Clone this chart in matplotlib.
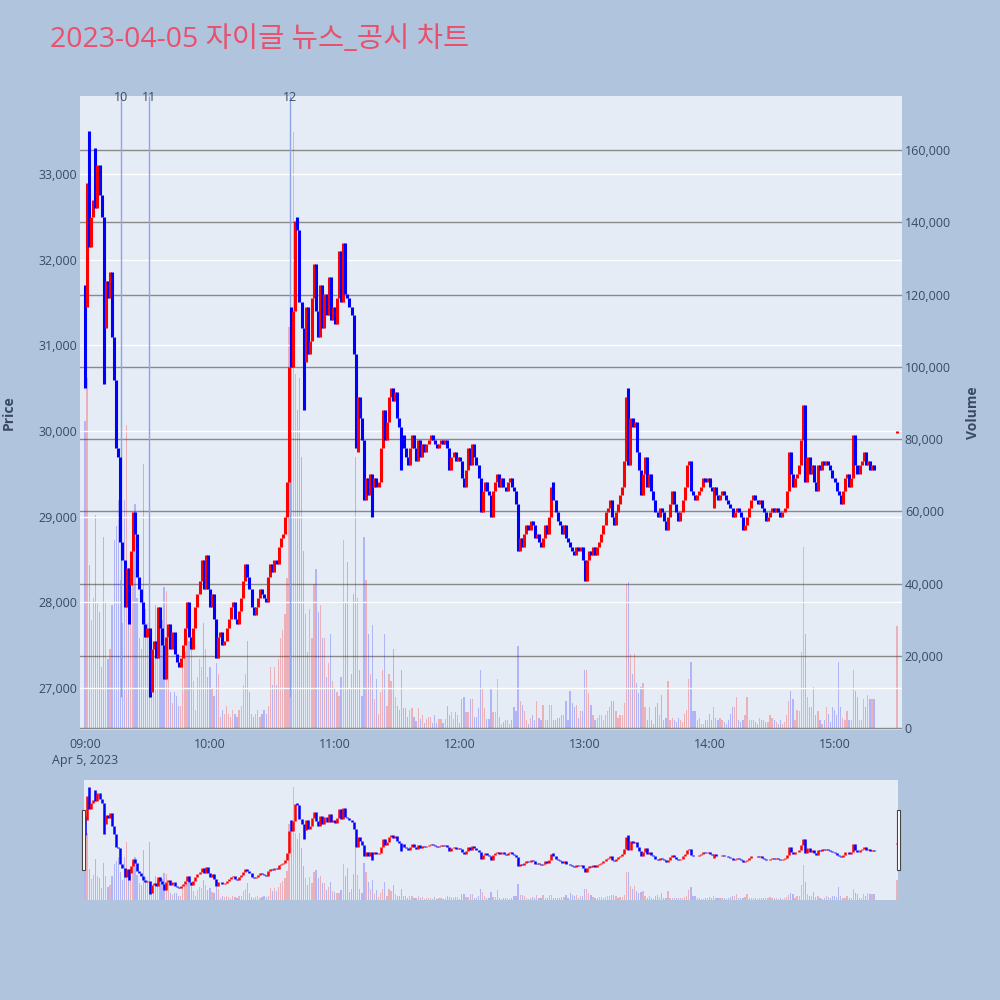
import matplotlib
matplotlib.use('Agg')
import matplotlib.pyplot as plt
from matplotlib.patches import Rectangle

plt.rcParams['font.family'] = ['Open Sans', 'Noto Sans CJK KR', 'DejaVu Sans']

# 1분봉 종가 (09:00 ~ 15:19), 시가는 직전 분의 종가
first_open = 31700
closes = [
    31450, 32900, 32150, 32500, 32700, 32600, 33100, 32750, 32500, 31200,
    31750, 31550, 31850, 31100, 30600, 29800, 29700, 28700, 28500, 27950,
    28400, 28200, 28600, 29050, 28800, 28300, 28150, 28000, 27750, 27600,
    27700, 27000, 27450, 27550, 27350, 27950, 27700, 27500, 27100, 27600,
    27750, 27450, 27650, 27400, 27300, 27250, 27350, 27500, 27700, 28000,
    27600, 27450, 27700, 27950, 28100, 28250, 28500, 28150, 28550, 28150,
    27950, 28100, 27800, 27350, 27600, 27650, 27500, 27550, 27700, 27800,
    27950, 28000, 27800, 27750, 27900, 28050, 28250, 28450, 28300, 28150,
    27950, 27850, 27950, 28050, 28150, 28100, 28050, 28000, 28300, 28450,
    28350, 28500, 28450, 28650, 28750, 28800, 29000, 29400, 30750, 30750,
    31400, 32450, 32350, 31500, 31200, 30800, 31450, 30900, 31050, 31550,
    31950, 31400, 31100, 31700, 31200, 31600, 31350, 31800, 31300, 31450,
    31250, 31550, 32100, 31500, 32200, 31600, 31550, 31450, 31350, 30900,
    29800, 30400, 30150, 29900, 29200, 29450, 29250, 29500, 29350, 29450,
    29350, 29400, 29800, 30250, 29900, 30100, 30400, 30500, 30350, 30450,
    30150, 30050, 29950, 29800, 29700, 29600, 29800, 29950, 29800, 29650,
    29900, 29700, 29850, 29750, 29850, 29900, 29950, 29900, 29850, 29800,
    29850, 29900, 29850, 29900, 29800, 29550, 29700, 29750, 29650, 29700,
    29650, 29450, 29350, 29550, 29800, 29600, 29850, 29700, 29600, 29450,
    29050, 29300, 29400, 29300, 29250, 29000, 29300, 29400, 29500, 29350,
    29450, 29350, 29300, 29400, 29450, 29350, 29300, 29150, 28600, 28750,
    28650, 28800, 28900, 28850, 28950, 28900, 28750, 28800, 28700, 28650,
    28750, 28900, 28800, 29000, 29350, 29200, 29050, 28950, 28900, 28800,
    28900, 28750, 28700, 28650, 28600, 28550, 28650, 28600, 28650, 28500,
    28250, 28500, 28600, 28550, 28650, 28550, 28650, 28700, 28800, 28900,
    29050, 29100, 29200, 29000, 28900, 29050, 29150, 29250, 29350, 29650,
    30400, 29600, 30150, 30050, 30100, 29750, 29550, 29250, 29500, 29700,
    29350, 29500, 29300, 29200, 29050, 29000, 29100, 29050, 28950, 28850,
    29000, 29150, 29300, 29150, 29050, 28950, 29050, 29200, 29350, 29600,
    29650, 29300, 29250, 29200, 29250, 29300, 29350, 29450, 29400, 29450,
    29350, 29300, 29350, 29250, 29200, 29250, 29300, 29250, 29200, 29150,
    29100, 29000, 29050, 29100, 29050, 29000, 28850, 28900, 29000, 29100,
    29200, 29250, 29200, 29150, 29200, 29100, 29050, 28950, 29000, 29050,
    29100, 29050, 29100, 29050, 29000, 29050, 29100, 29300, 29750, 29500,
    29350, 29450, 29500, 29600, 29900, 30300, 29400, 29700, 29500, 29600,
    29400, 29300, 29600, 29550, 29650, 29600, 29650, 29600, 29550, 29450,
    29400, 29300, 29250, 29150, 29300, 29450, 29500, 29350, 29450, 29950,
    29600, 29500, 29600, 29650, 29750, 29600, 29650, 29550, 29600, 29550,
]

volumes = [
    85000, 97000, 45000, 30000, 36000, 59000, 35000, 32000, 17000, 53000,
    35000, 19000, 22000, 34000, 52000, 56000, 63000, 41000, 29000, 63000,
    84000, 40000, 34000, 53000, 62000, 36000, 25000, 22000, 73000, 33000,
    29000, 84000, 13000, 14000, 34000, 28000, 33000, 30000, 39000, 38000,
    25000, 10000, 7000, 10000, 9000, 6000, 6000, 19000, 21000, 25000,
    24000, 25000, 13000, 5000, 14000, 19000, 17000, 29000, 22000, 14000,
    17000, 11000, 9000, 18000, 15000, 3000, 5000, 4000, 6000, 4000,
    3000, 5000, 4000, 3000, 5000, 6000, 12000, 15000, 24000, 10000,
    4000, 3000, 4000, 5000, 3000, 4000, 5000, 4000, 6000, 17000,
    12000, 17000, 12000, 19000, 25000, 27000, 31500, 41500, 111000, 106000,
    165000, 98000, 88000, 97000, 75000, 49000, 31500, 21000, 33000, 25000,
    40000, 44000, 32000, 34000, 25000, 25000, 14000, 18000, 26000, 13000,
    11000, 10000, 9000, 14000, 52000, 35000, 46000, 11000, 15000, 37000,
    75000, 36000, 16000, 9000, 53000, 41000, 26000, 15000, 28500, 8000,
    13700, 4000, 10000, 16000, 26000, 6000, 15000, 13000, 22000, 8500,
    6000, 5000, 16000, 5500, 5500, 3000, 5000, 5500, 3000, 2000,
    5500, 2500, 3500, 1500, 2500, 3000, 3000, 1500, 3500, 1500,
    2500, 2500, 1500, 2500, 6000, 3500, 4500, 2500, 4500, 3500,
    1500, 8000, 8500, 4500, 4500, 8000, 8000, 3000, 3000, 5500,
    16000, 11000, 5500, 2500, 2500, 11000, 4500, 4500, 13700, 3000,
    1200, 1800, 2300, 2300, 1200, 2300, 5700, 4600, 22800, 7400,
    6300, 4600, 2300, 1200, 2900, 3500, 2300, 7400, 2900, 2300,
    6300, 2300, 2300, 6300, 6300, 2300, 2300, 2900, 2900, 3500,
    3500, 7400, 2300, 10300, 6900, 5700, 6300, 2900, 4600, 4600,
    16000, 16000, 9700, 6300, 3500, 2300, 2900, 3500, 3500, 2300,
    3500, 4600, 5700, 7400, 7400, 4600, 2900, 3500, 3500, 6900,
    40000, 40500, 20600, 15000, 20600, 12500, 9700, 11400, 12500, 5700,
    2300, 5700, 2300, 1200, 5700, 6900, 3500, 9100, 2300, 2900,
    13100, 2300, 2900, 2300, 1800, 2900, 2300, 1800, 4000, 5100,
    13700, 18300, 4600, 4600, 2300, 2900, 1200, 1200, 2300, 2300,
    4000, 2300, 5700, 2900, 2300, 2900, 2300, 1800, 1200, 2300,
    4000, 5700, 5700, 8600, 2300, 1800, 2300, 3500, 8600, 2300,
    2300, 2300, 1800, 1200, 2900, 2300, 2300, 1800, 1800, 3500,
    2900, 2300, 1800, 1200, 2300, 1200, 1800, 3500, 7400, 10300,
    8000, 2300, 5100, 4600, 21000, 50000, 26000, 8600, 5700, 5700,
    11400, 3500, 4600, 2300, 1200, 2300, 5700, 4000, 1800, 5700,
    5100, 3500, 18300, 5700, 2900, 2300, 4600, 2300, 2300, 16000,
    10300, 8600, 2300, 2300, 8000, 5700, 9100, 8000, 8000, 8000,
]

# 꼬리가 몸통보다 길게 보이는 봉 (분: 가격)
wick_high = {2: 33500, 5: 33300, 99: 31450, 102: 32500, 225: 29400, 261: 30500}
wick_low = {0: 30500, 9: 30550, 21: 27750, 31: 26900, 32: 26950, 105: 30250,
            131: 29750, 138: 29000, 152: 29550, 302: 29100}

# 15:30 종가 단일가
auction_minute = 390
auction_open = 29980
auction_close = 30000
auction_volume = 28300

# 뉴스/공시 시점 (09:00 기준 분)
news_minutes = [17.3, 30.7, 98.6]
news_labels = ['10', '11', '12']

hour_ticks = [0, 60, 120, 180, 240, 300, 360]
hour_labels = ['09:00\nApr 5, 2023', '10:00', '11:00', '12:00', '13:00', '14:00', '15:00']
price_ticks = [27000, 28000, 29000, 30000, 31000, 32000, 33000]
volume_ticks = [0, 20000, 40000, 60000, 80000, 100000, 120000, 140000, 160000]

RED = '#ff0000'
BLUE = '#0000ff'
TXT = '#3b4a63'

minutes = list(range(len(closes))) + [auction_minute]
opens = [first_open] + closes[:-1] + [auction_open]
closes_all = closes + [auction_close]
vols = volumes + [auction_volume]

lows, highs, colors = [], [], []
for i in range(len(minutes)):
    o, c = opens[i], closes_all[i]
    lo = wick_low.get(i, min(o, c))
    hi = wick_high.get(i, max(o, c))
    if hi - lo < 20:
        hi += 10
        lo -= 10
    lows.append(lo)
    highs.append(hi)
    colors.append(RED if c > o else BLUE)
vol_colors = [(1, 0, 0, 0.25) if col == RED else (0, 0, 1, 0.23) for col in colors]

PRICE_LIM = (26510, 33910)
VOL_LIM = (-550, 174950)

fig = plt.figure(figsize=(10, 10), dpi=100, facecolor='#b0c4de')

# ---- main chart ----
ax_v = fig.add_axes([0.080, 0.270, 0.822, 0.634])
ax_v.set_facecolor('#e5ecf6')
ax_v.set_xlim(-2.4, 392.4)
ax_v.set_ylim(*VOL_LIM)
for v in volume_ticks:
    ax_v.axhline(v, color='#8a8a8a', lw=1.0, zorder=1)
ax_v.bar(minutes, vols, width=0.6, color=vol_colors, linewidth=0, zorder=2)

ax_p = ax_v.twinx()
ax_p.set_ylim(*PRICE_LIM)
ax_p.set_xlim(-2.4, 392.4)
for p in price_ticks:
    ax_p.axhline(p, color='white', lw=1.0, zorder=0)
for m, lab in zip(news_minutes, news_labels):
    ax_p.vlines(m, 26900, PRICE_LIM[1], color='#8ea4ea', lw=1.0, zorder=1)
    ax_p.annotate(lab, xy=(m, 1.0), xycoords=('data', 'axes fraction'),
                  xytext=(0, -1), textcoords='offset points',
                  ha='center', va='center', fontsize=9, color=TXT)
ax_p.vlines(minutes, lows, highs, colors=colors, lw=2.2, zorder=3)

# 거래량 눈금은 오른쪽, 가격 눈금은 왼쪽
ax_v.yaxis.tick_right()
ax_v.set_yticks(volume_ticks)
ax_v.set_yticklabels([f'{v:,}' for v in volume_ticks])
ax_v.set_xticks(hour_ticks)
ax_v.set_xticklabels(hour_labels)
ax_v.tick_params(axis='both', length=0, labelsize=9, labelcolor=TXT)
ax_v.tick_params(axis='y', pad=2)
ax_v.tick_params(axis='x', pad=6)
for lbl in ax_v.get_xticklabels():
    lbl.set_linespacing(1.25)

ax_p.yaxis.tick_left()
ax_p.set_yticks(price_ticks)
ax_p.set_yticklabels([f'{p:,}' for p in price_ticks])
ax_p.tick_params(axis='y', length=0, labelsize=9, labelcolor=TXT, pad=2)

for a in (ax_v, ax_p):
    for s in a.spines.values():
        s.set_visible(False)

fig.text(0.009, 0.587, 'Price', rotation=90, ha='center', va='center',
         fontsize=10, fontweight='bold', color=TXT)
fig.text(0.973, 0.587, 'Volume', rotation=90, ha='center', va='center',
         fontsize=10, fontweight='bold', color=TXT)
fig.text(0.050, 0.960, '2023-04-05 자이글 뉴스_공시 차트', ha='left', va='center',
         fontsize=20.5, color='#e9506b')

# ---- range slider ----
sl_v = fig.add_axes([0.084, 0.100, 0.814, 0.120])
sl_v.set_facecolor('#e5ecf6')
sl_v.set_xlim(-0.48, 390.47)
sl_v.set_ylim(*VOL_LIM)
sl_v.bar(minutes, vols, width=0.6, color=vol_colors, linewidth=0)
sl_p = sl_v.twinx()
sl_p.set_xlim(-0.48, 390.47)
sl_p.set_ylim(*PRICE_LIM)
sl_p.vlines(minutes, lows, highs, colors=colors, lw=1.8)
for a in (sl_v, sl_p):
    a.set_xticks([])
    a.set_yticks([])
    for s in a.spines.values():
        s.set_visible(False)

for hx in (0.0815, 0.8965):
    fig.add_artist(Rectangle((hx, 0.130), 0.0035, 0.060, transform=fig.transFigure,
                             facecolor='white', edgecolor='#444444', lw=0.8, zorder=10))

fig.savefig('out.png', dpi=100, facecolor=fig.get_facecolor())
